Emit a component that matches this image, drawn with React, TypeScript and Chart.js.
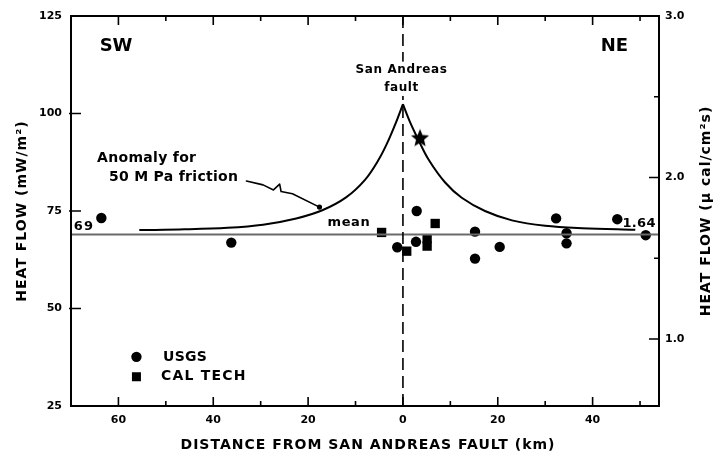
import React, { useEffect, useRef } from 'react';
import { Chart, registerables } from 'chart.js';

Chart.register(...registerables);

// Frictional heat-flow anomaly (mW/m^2) on each side of the fault trace
const anomalyWestKm = [-55.6, -46, -37, -29.5, -22.5, -17, -12, -8, -5.2, -3.4, -1.5, 0];
const anomalyWestFlow = [70.1, 70.3, 70.7, 71.5, 73.1, 75.2, 78.5, 83.0, 88.0, 92.2, 97.6, 102.4];
const anomalyEastKm = [0, 1.5, 3.2, 5.4, 8.9, 12.4, 17.3, 23, 30, 37.8, 49];
const anomalyEastFlow = [102.4, 97.8, 93.4, 88.2, 82.3, 78.4, 75.0, 72.6, 71.2, 70.6, 70.2];

// Measured heat flow
const usgsKm = [-63.6, -36.2, -1.2, 2.75, 2.9, 15.2, 15.2, 20.4, 32.3, 34.5, 34.5, 45.2, 51.2];
const usgsFlow = [73.2, 66.9, 65.7, 67.1, 75.0, 69.7, 62.8, 65.8, 73.1, 69.3, 66.7, 72.9, 68.8];
const calTechKm = [-4.5, 0.8, 5.1, 5.1, 6.8];
const calTechFlow = [69.5, 64.7, 67.9, 66.0, 71.8];
const starKm = [3.6];
const starFlow = [93.6];

// Mean regional heat flow
const meanFlow = 69;
const meanFlowHfu = '1.64';

// Axes
const xMin = -70;
const xMax = 54;
const xLabelTicks = [-60, -40, -20, 0, 20, 40];
const yMin = 25;
const yMax = 125;
const yTicks = [25, 50, 75, 100, 125];
const y2Min = 0.585;
const y2Max = 3.0;
const y2Ticks = [1.0, 2.0, 3.0];
const y2MinorTicks = [1.5, 2.5];

const FONT = '"DejaVu Sans", "Liberation Sans", Arial, sans-serif';

const pts = (xs: number[], ys: number[]) => xs.map((x, i) => ({ x, y: ys[i] }));

function makeStar(): HTMLCanvasElement {
  const c = document.createElement('canvas');
  c.width = 20;
  c.height = 20;
  const g = c.getContext('2d')!;
  g.fillStyle = '#000';
  g.beginPath();
  for (let i = 0; i < 10; i++) {
    const r = i % 2 === 0 ? 9.5 : 4.2;
    const a = -Math.PI / 2 + (i * Math.PI) / 5;
    const px = 10 + r * Math.cos(a);
    const py = 10 + r * Math.sin(a);
    if (i === 0) g.moveTo(px, py);
    else g.lineTo(px, py);
  }
  g.closePath();
  g.fill();
  return c;
}

const frame = {
  id: 'frame',
  afterDraw(chart: any) {
    const { ctx, chartArea: a, scales } = chart;
    const xs = scales.x;
    const ys = scales.y;
    const y2 = scales.y2;
    const X = (v: number) => xs.getPixelForValue(v);
    const Y = (v: number) => ys.getPixelForValue(v);

    ctx.save();
    ctx.strokeStyle = '#000';
    ctx.lineWidth = 2;
    ctx.strokeRect(a.left, a.top, a.right - a.left, a.bottom - a.top);

    // inward tick marks
    ctx.lineWidth = 1.6;
    ctx.beginPath();
    for (let v = -60; v <= 50; v += 10) {
      const len = v % 20 === 0 ? 9 : 5;
      const px = X(v);
      ctx.moveTo(px, a.bottom);
      ctx.lineTo(px, a.bottom - len);
      ctx.moveTo(px, a.top);
      ctx.lineTo(px, a.top + len);
    }
    for (const v of [50, 75, 100]) {
      ctx.moveTo(a.left - 2, Y(v));
      ctx.lineTo(a.left + 10, Y(v));
    }
    for (const v of y2Ticks) {
      ctx.moveTo(a.right, y2.getPixelForValue(v));
      ctx.lineTo(a.right - 10, y2.getPixelForValue(v));
    }
    for (const v of y2MinorTicks) {
      ctx.moveTo(a.right, y2.getPixelForValue(v));
      ctx.lineTo(a.right - 5, y2.getPixelForValue(v));
    }
    ctx.stroke();

    ctx.fillStyle = '#000';
    ctx.textBaseline = 'middle';

    const text = (s: string, x: number, y: number, size: number, align: CanvasTextAlign = 'left', spacing = '0px') => {
      ctx.font = `bold ${size}px ${FONT}`;
      ctx.letterSpacing = spacing;
      ctx.textAlign = align;
      ctx.fillText(s, x, y);
      ctx.letterSpacing = '0px';
    };

    // fault label sits on a clear patch of the dashed trace
    ctx.fillStyle = '#fff';
    ctx.fillRect(X(-0.3) - 48, Y(113.3), 96, Y(104.5) - Y(113.3));
    ctx.fillStyle = '#000';
    text('San Andreas', X(-0.3), Y(111.2), 12, 'center', '0.6px');
    text('fault', X(-0.3), Y(106.6), 12, 'center', '0.6px');

    text('SW', X(-60.5), Y(117.3), 18, 'center');
    text('NE', X(44.6), Y(117.3), 18, 'center');
    text('Anomaly for', X(-64.5), Y(88.6), 14, 'left', '0.3px');
    text('50 M Pa friction', X(-62), Y(83.5), 14, 'left', '0.3px');
    text('mean', X(-15.9), Y(71.9), 13, 'left', '0.6px');
    text('69', X(-69.4), Y(70.9), 13, 'left', '1px');
    text(meanFlowHfu, X(46.3), Y(71.8), 13, 'left', '0.3px');

    // squiggly pointer to the anomaly curve
    const arrow = [[-33.0, 82.7], [-29.5, 81.7], [-27.3, 80.4], [-26.0, 81.9], [-25.7, 80.0], [-23.3, 79.4], [-17.6, 76.0]];
    ctx.lineWidth = 1.6;
    ctx.lineJoin = 'round';
    ctx.lineCap = 'round';
    ctx.beginPath();
    arrow.forEach(([u, w], i) => {
      if (i === 0) ctx.moveTo(X(u), Y(w));
      else ctx.lineTo(X(u), Y(w));
    });
    ctx.stroke();
    const [tu, tw] = arrow[arrow.length - 1];
    ctx.beginPath();
    ctx.arc(X(tu), Y(tw), 2.6, 0, Math.PI * 2);
    ctx.fill();

    // legend
    const lx = X(-56.2);
    ctx.beginPath();
    ctx.arc(lx, Y(37.6), 5.2, 0, Math.PI * 2);
    ctx.fill();
    ctx.fillRect(lx - 4.5, Y(32.5) - 4.5, 9, 9);
    text('USGS', X(-50.6), Y(37.6), 14, 'left', '0.3px');
    text('CAL TECH', X(-51.0), Y(32.5), 14, 'left', '1.2px');

    // axis titles
    text('DISTANCE FROM SAN ANDREAS FAULT (km)', 368, 445, 14, 'center', '1px');

    ctx.save();
    ctx.translate(22, (a.top + a.bottom) / 2);
    ctx.rotate(-Math.PI / 2);
    text('HEAT FLOW (mW/m\u00B2)', 0, 0, 14, 'center', '1px');
    ctx.restore();

    ctx.save();
    ctx.translate(706, (a.top + a.bottom) / 2);
    ctx.rotate(-Math.PI / 2);
    text('HEAT FLOW (\u03BC cal/cm\u00B2s)', 0, 0, 14, 'center', '1px');
    ctx.restore();

    ctx.restore();
  },
};

export default function App() {
  const ref = useRef<HTMLCanvasElement>(null);

  useEffect(() => {
    const canvas = ref.current!;
    const star = makeStar();
    const chart = new Chart(canvas, {
      type: 'scatter',
      data: {
        datasets: [
          {
            label: 'fault',
            data: [{ x: 0, y: yMin }, { x: 0, y: yMax }],
            showLine: true,
            borderColor: '#000',
            borderWidth: 1.6,
            borderDash: [12, 6],
            pointRadius: 0,
          },
          {
            label: 'mean',
            data: [{ x: xMin, y: meanFlow }, { x: xMax, y: meanFlow }],
            showLine: true,
            borderColor: '#6a6a6a',
            borderWidth: 2,
            pointRadius: 0,
          },
          {
            label: 'Anomaly SW',
            data: pts(anomalyWestKm, anomalyWestFlow),
            showLine: true,
            borderColor: '#000',
            borderWidth: 2,
            tension: 0.35,
            pointRadius: 0,
          },
          {
            label: 'Anomaly NE',
            data: pts(anomalyEastKm, anomalyEastFlow),
            showLine: true,
            borderColor: '#000',
            borderWidth: 2,
            tension: 0.35,
            pointRadius: 0,
          },
          {
            label: 'USGS',
            data: pts(usgsKm, usgsFlow),
            pointStyle: 'circle',
            pointRadius: 5.2,
            backgroundColor: '#000',
            borderColor: '#000',
            borderWidth: 0,
          },
          {
            label: 'CAL TECH',
            data: pts(calTechKm, calTechFlow),
            pointStyle: 'rect',
            pointRadius: 6.6,
            backgroundColor: '#000',
            borderColor: '#000',
            borderWidth: 0,
          },
          {
            label: 'star',
            data: pts(starKm, starFlow),
            pointStyle: star,
            pointRadius: 10,
          },
        ],
      },
      options: {
        responsive: false,
        animation: false,
        events: [],
        layout: { padding: { top: 16, left: 0, right: 0, bottom: 0 } },
        plugins: { legend: { display: false }, tooltip: { enabled: false } },
        scales: {
          x: {
            type: 'linear',
            position: 'bottom',
            min: xMin,
            max: xMax,
            grid: { display: false, drawTicks: false },
            border: { display: false },
            afterBuildTicks: (s: any) => {
              s.ticks = xLabelTicks.map((value) => ({ value }));
            },
            afterFit: (s: any) => {
              s.height = 47;
            },
            ticks: {
              color: '#000',
              padding: 8,
              font: { family: FONT, size: 11, weight: 'bold' },
              callback: (v: any) => String(Math.abs(Number(v))),
              maxRotation: 0,
            },
          },
          y: {
            type: 'linear',
            position: 'left',
            min: yMin,
            max: yMax,
            grid: { display: false, drawTicks: false },
            border: { display: false },
            afterBuildTicks: (s: any) => {
              s.ticks = yTicks.map((value) => ({ value }));
            },
            afterFit: (s: any) => {
              s.width = 71;
            },
            ticks: {
              color: '#000',
              padding: 9,
              font: { family: FONT, size: 11, weight: 'bold' },
              callback: (v: any) => String(v),
            },
          },
          y2: {
            type: 'linear',
            position: 'right',
            min: y2Min,
            max: y2Max,
            grid: { display: false, drawTicks: false },
            border: { display: false },
            afterBuildTicks: (s: any) => {
              s.ticks = y2Ticks.map((value) => ({ value }));
            },
            afterFit: (s: any) => {
              s.width = 59;
            },
            ticks: {
              color: '#000',
              padding: 6,
              font: { family: FONT, size: 11, weight: 'bold' },
              callback: (v: any) => Number(v).toFixed(1),
            },
          },
        },
      },
      plugins: [frame],
    });
    return () => chart.destroy();
  }, []);

  return (
    <div style={{ position: 'absolute', left: 0, top: 0, width: 718, height: 453, background: '#fff' }}>
      <canvas ref={ref} width={718} height={453} style={{ display: 'block' }} />
    </div>
  );
}
